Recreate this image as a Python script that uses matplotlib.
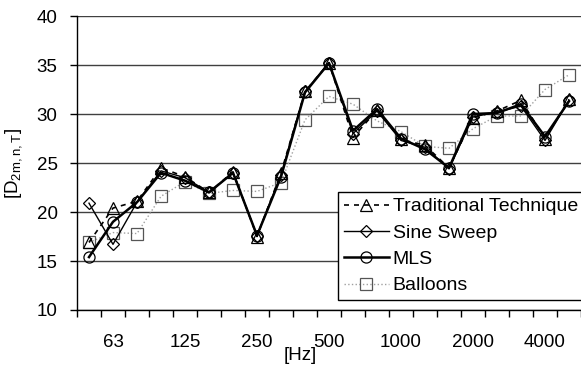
import matplotlib
matplotlib.use("Agg")
import matplotlib.pyplot as plt
from matplotlib.ticker import FixedLocator

plt.rcParams['font.family'] = ['Liberation Sans', 'DejaVu Sans']
plt.rcParams['mathtext.fontset'] = 'custom'
plt.rcParams['mathtext.rm'] = 'Liberation Sans'

# third-octave bands (Hz)
bands = [50, 63, 80, 100, 125, 160, 200, 250, 315, 400, 500,
         630, 800, 1000, 1250, 1600, 2000, 2500, 3150, 4000, 5000]
tick_labels = ['63', '125', '250', '500', '1000', '2000', '4000']

traditional = [16.9, 20.4, 21.1, 24.5, 23.6, 22.0, 24.1, 17.5, 24.0, 32.3, 35.2,
               27.6, 30.4, 27.4, 26.8, 24.5, 29.6, 30.3, 31.4, 27.5, 31.5]
sine_sweep = [20.9, 16.7, 21.0, 24.2, 23.5, 22.0, 24.0, 17.6, 23.8, 32.3, 35.2,
              28.0, 30.3, 27.3, 26.6, 24.4, 29.7, 30.2, 30.8, 27.3, 31.4]
mls = [15.4, 19.0, 21.0, 24.0, 23.2, 22.0, 24.0, 17.6, 23.6, 32.2, 35.2,
       28.3, 30.5, 27.5, 26.4, 24.5, 30.0, 30.1, 31.0, 27.7, 31.3]
balloons = [16.9, 17.9, 17.8, 21.6, 23.1, 21.9, 22.2, 22.1, 23.0, 29.4, 31.8,
            31.0, 29.3, 28.2, 26.7, 26.5, 28.5, 29.8, 29.8, 32.5, 34.0]

fs = 13.5
fig = plt.figure(figsize=(5.81, 3.67), dpi=100)
ax = fig.add_axes([77 / 581, 1 - 310 / 367, 504 / 581, 294 / 367])

x = list(range(len(bands)))

ax.plot(x, balloons, color='#a0a0a0', lw=1, ls=':', marker='s', ms=8,
        mfc='none', mec='#555555', mew=0.9, label='Balloons', zorder=3)
ax.plot(x, sine_sweep, color='black', lw=1, marker='D', ms=6,
        mfc='none', mec='black', mew=0.9, label='Sine Sweep', zorder=4)
ax.plot(x, mls, color='black', lw=1.8, marker='o', ms=8,
        mfc='none', mec='black', mew=0.9, label='MLS', zorder=5)
ax.plot(x, traditional, color='black', lw=1.2, dashes=(3, 3), marker='^', ms=8,
        mfc='none', mec='black', mew=0.9, label='Traditional Technique', zorder=6)

ax.set_xlim(-0.5, len(bands) - 0.5)
ax.set_ylim(10, 40)
ax.set_yticks(range(10, 41, 5))
ax.yaxis.grid(True, color='#404040', lw=1)
ax.set_axisbelow(True)

label_idx = [bands.index(int(t)) for t in tick_labels]
ax.set_xticks(label_idx)
ax.set_xticklabels(tick_labels)
ax.tick_params(axis='x', which='major', length=0, pad=17, labelsize=fs)
ax.xaxis.set_minor_locator(FixedLocator([i - 0.5 for i in range(len(bands) + 1)]))
ax.tick_params(axis='x', which='minor', length=5, width=1, direction='out')
ax.tick_params(axis='y', length=5, width=1, direction='out', labelsize=fs, pad=9)

for s in ['top', 'right']:
    ax.spines[s].set_visible(False)
ax.spines['left'].set_linewidth(1)
ax.spines['bottom'].set_linewidth(1)

ax.set_ylabel(r'[D$_{\mathregular{2m,n,T}}$]', fontsize=fs, labelpad=8)
fig.text(300 / 581, 1 - 356 / 367, '[Hz]', fontsize=fs, ha='center', va='center')

handles, labels = ax.get_legend_handles_labels()
order = [3, 1, 2, 0]
leg = ax.legend([handles[i] for i in order], [labels[i] for i in order],
                loc='lower left', bbox_to_anchor=(0.518, 0.033), fontsize=14,
                frameon=True, fancybox=False, edgecolor='black', framealpha=1,
                handlelength=2.3, handletextpad=0.2, borderpad=0.3,
                labelspacing=0.45, borderaxespad=0)
leg.get_frame().set_linewidth(1)
leg.set_clip_on(False)

fig.savefig('out.png', dpi=100)
